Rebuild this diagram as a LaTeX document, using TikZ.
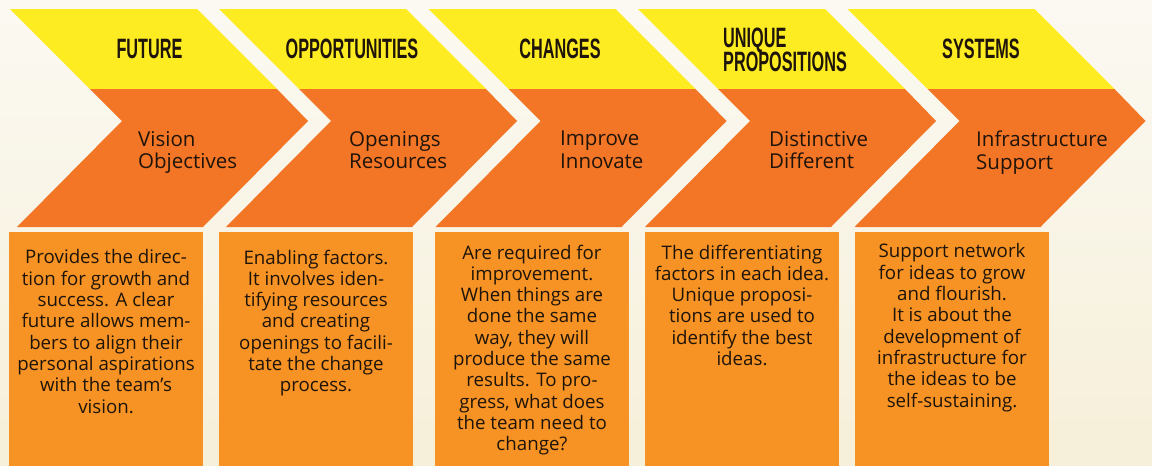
\documentclass[tikz,border=0pt]{standalone}
\usepackage{fontspec}
\usepackage{graphicx}
\setmainfont{Open Sans}
\newfontfamily\titlefont{Liberation Sans}
\definecolor{bgtop}{HTML}{FBF9F2}
\definecolor{bgbot}{HTML}{F6EFD9}
\definecolor{cyellow}{HTML}{FDEC22}
\definecolor{corange}{HTML}{F37526}
\definecolor{cbox}{HTML}{F79324}
\definecolor{ink}{HTML}{1E140A}
\newcommand\ttx[1]{\scalebox{0.58}[1]{#1}}
\newcommand\chevshape[1]{%
  \fill[cyellow] (#1,9) -- (#1+187,9) -- (#1+267,89) -- (#1+80,89) -- cycle;
  \fill[corange] (#1+80,89) -- (#1+267,89) -- (#1+298,121) -- (#1+193,227) -- (#1+7,227) -- (#1+112,121) -- cycle;
}
\tikzset{
  ttl/.style={font=\titlefont\bfseries\fontsize{28}{22}\selectfont, text=ink, inner sep=0pt},
  sub/.style={font=\fontsize{20.5}{22.7}\selectfont, text=ink, align=left, anchor=north west, inner sep=0pt},
  boxst/.style={fill=cbox, draw=none, minimum width=194pt, minimum height=234pt, anchor=north west, inner sep=0pt},
  body/.style={font=\fontsize{18.7}{21.3}\selectfont, text=ink, align=center, anchor=north, inner sep=0pt},
}
\begin{document}
\begin{tikzpicture}[x=1pt,y=-1pt]
\useasboundingbox (0,0) rectangle (1152,466);
\shade[top color=bgtop, bottom color=bgbot] (0,0) rectangle (1152,466);
% chevrons
\chevshape{10}
\chevshape{219}
\chevshape{428.5}
\chevshape{638}
\chevshape{847.5}
% titles
\node[ttl] (t1) at (149.5,49) {\ttx{FUTURE}};
\node[ttl] (t2) at (352,49) {\ttx{OPPORTUNITIES}};
\node[ttl] (t3) at (560,49) {\ttx{CHANGES}};
\node[ttl, anchor=base west] (t4a) at (723,47) {\ttx{UNIQUE}};
\node[ttl, anchor=base west] (t4b) at (723,71) {\ttx{PROPOSITIONS}};
\node[ttl] (t5) at (981,49) {\ttx{SYSTEMS}};
% chevron sub-texts
\node[sub] (s1) at (138,131) {Vision\\Objectives};
\node[sub] (s2) at (349,131) {Openings\\Resources};
\node[sub] (s3) at (560,131) {Improve\\Innovate};
\node[sub] (s4) at (769,131) {Distinctive\\Different};
\node[sub] (s5) at (976,131) {Infrastructure\\Support};
% boxes
\node[boxst] (b1) at (9,232) {};
\node[boxst] (b2) at (219,232) {};
\node[boxst] (b3) at (435,232) {};
\node[boxst] (b4) at (645,232) {};
\node[boxst] (b5) at (855,232) {};
% box texts
\node[body] (d1) at (106,249.5) {Provides the direc-\\tion for growth and\\success. A clear\\future allows mem-\\bers to align their\\personal aspirations\\with the team’s\\vision.};
\node[body] (d2) at (316,249.5) {Enabling factors.\\It involves iden-\\tifying resources\\and creating\\openings to facili-\\tate the change\\process.};
\node[body] (d3) at (532,244.5) {Are required for\\improvement.\\When things are\\done the same\\way, they will\\produce the same\\results. To pro-\\gress, what does\\the team need to\\change?};
\node[body] (d4) at (742,244.5) {The differentiating\\factors in each idea.\\Unique proposi-\\tions are used to\\identify the best\\ideas.};
\node[body] (d5) at (952,243.5) {Support network\\for ideas to grow\\and flourish.\\It is about the\\development of\\infrastructure for\\the ideas to be\\self-sustaining.};
\end{tikzpicture}
\end{document}
